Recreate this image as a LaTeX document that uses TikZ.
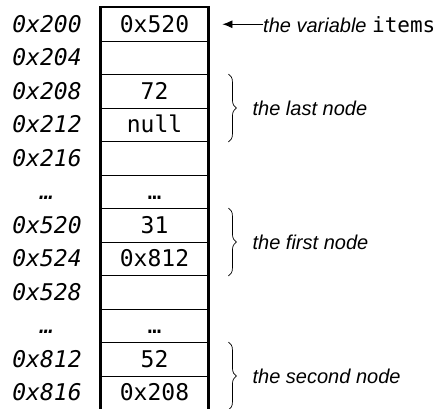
\documentclass[tikz,border=0pt]{standalone}
\usepackage{fontspec}
\setmainfont{Liberation Sans}
\setmonofont{DejaVu Sans Mono}
\usetikzlibrary{arrows.meta,decorations.pathreplacing}

\begin{document}
\begin{tikzpicture}[x=1pt,y=-1pt,
  cell/.style={draw,line width=.9pt,minimum width=107pt,minimum height=33.5pt,
    inner sep=0pt,text height=16pt,text depth=0pt,
    font=\fontsize{23}{27}\selectfont\ttfamily},
  addr/.style={inner sep=0pt,text height=16pt,text depth=0pt,
    font=\fontsize{23}{27}\selectfont\ttfamily\itshape},
  note/.style={anchor=west,inner sep=0pt,font=\fontsize{20}{24}\selectfont\itshape},
  nodebrace/.style={decorate,decoration={brace,amplitude=8pt},line width=.7pt}]
  \useasboundingbox (0,0) rectangle (436,408);
  % memory cells, one row per word
  \node[cell] (m200) at (154.5,24.25) {0x520};
  \node[cell] (m204) at (154.5,57.75) {};
  \node[cell] (m208) at (154.5,91.25) {72};
  \node[cell] (m212) at (154.5,124.75) {null};
  \node[cell] (m216) at (154.5,158.25) {};
  \node[cell] (gap1) at (154.5,191.75) {\dots};
  \node[cell] (m520) at (154.5,225.25) {31};
  \node[cell] (m524) at (154.5,258.75) {0x812};
  \node[cell] (m528) at (154.5,292.25) {};
  \node[cell] (gap2) at (154.5,325.75) {\dots};
  \node[cell] (m812) at (154.5,359.25) {52};
  \node[cell] (m816) at (154.5,392.75) {0x208};
  \draw[line width=2.2pt] (m200.north west) rectangle (m816.south east);
  % addresses
  \node[addr] (a200) at (47,24.25) {0x200};
  \node[addr] (a204) at (47,57.75) {0x204};
  \node[addr] (a208) at (47,91.25) {0x208};
  \node[addr] (a212) at (47,124.75) {0x212};
  \node[addr] (a216) at (47,158.25) {0x216};
  \node[addr] (agap1) at (47,191.75) {\dots};
  \node[addr] (a520) at (47,225.25) {0x520};
  \node[addr] (a524) at (47,258.75) {0x524};
  \node[addr] (a528) at (47,292.25) {0x528};
  \node[addr] (agap2) at (47,325.75) {\dots};
  \node[addr] (a812) at (47,359.25) {0x812};
  \node[addr] (a816) at (47,392.75) {0x816};
  % notes
  \node[note] (items) at (263,24.25) {the variable {\upshape\fontsize{21}{25}\selectfont\ttfamily items}};
  \draw[-{Latex[length=10pt,width=8pt]},line width=.9pt] (items.west) -- ([xshift=14pt]m200.east);
  \draw[nodebrace] ([xshift=20pt]m208.north east) -- ([xshift=20pt]m212.south east) coordinate[midway] (lastmid);
  \node[note] (lastnote) at ([xshift=24pt]lastmid) {the last node};
  \draw[nodebrace] ([xshift=20pt]m520.north east) -- ([xshift=20pt]m524.south east) coordinate[midway] (firstmid);
  \node[note] (firstnote) at ([xshift=24pt]firstmid) {the first node};
  \draw[nodebrace] ([xshift=20pt]m812.north east) -- ([xshift=20pt]m816.south east) coordinate[midway] (secondmid);
  \node[note] (secondnote) at ([xshift=24pt]secondmid) {the second node};
\end{tikzpicture}
\end{document}
